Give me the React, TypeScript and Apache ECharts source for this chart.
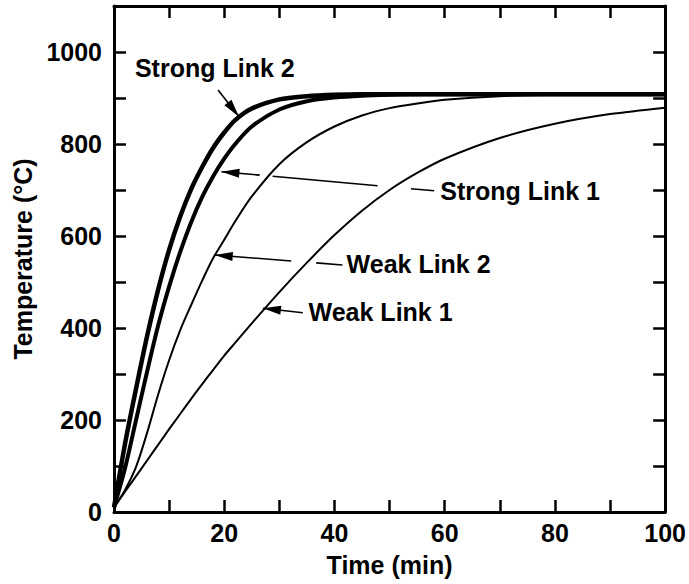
import React, { useEffect, useRef } from "react";
import * as echarts from "echarts";

// Time (min) sample points
const timeMin = [0, 2, 4, 6, 8, 10, 12, 14, 16, 18, 20, 22, 25, 30, 35, 40, 45, 50, 55, 60, 70, 80, 90, 100];
// Temperature (°C) per series
const strongLink2 = [10, 148, 268, 382, 483, 570, 642, 702, 750, 792, 825, 852, 877, 897, 904, 907, 908, 908, 908, 908, 908, 908, 908, 908];
const strongLink1 = [10, 95, 200, 305, 405, 490, 565, 630, 685, 730, 768, 800, 838, 875, 893, 901, 905, 907, 908, 908, 908, 908, 908, 908];
const weakLink2 = [10, 48, 98, 172, 255, 330, 395, 450, 503, 552, 592, 632, 686, 756, 804, 838, 862, 878, 888, 896, 904, 907, 908, 908];
const weakLink1 = [10, 44, 78, 112, 146, 180, 213, 246, 278, 309, 340, 368, 410, 478, 542, 602, 655, 700, 737, 768, 813, 844, 865, 879];

const seriesNames = ["Strong Link 2", "Strong Link 1", "Weak Link 2", "Weak Link 1"];
const seriesWidths = [4.5, 4, 2, 2];

// Annotation labels: [time, temperature] of left edge / vertical middle
const labelText = ["Strong Link 2", "Strong Link 1", "Weak Link 2", "Weak Link 1"];
const labelAnchor = [
  [3.8, 965],
  [59.2, 698],
  [42.2, 539],
  [35.3, 434],
];
// Arrow line pieces (data coords), last point of last piece is the arrow tip
const arrowPieces = [
  [[[18.88, 917.4], [22.68, 859.3]]],
  [
    [[58.1, 698.5], [53.88, 702.8]],
    [[47.84, 709.3], [28.78, 729.8]],
    [[26.43, 732.4], [19.49, 739.8]],
  ],
  [
    [[41.45, 537.0], [36.69, 541.5]],
    [[32.16, 545.7], [18.28, 558.7]],
  ],
  [[[34.26, 433.3], [27.02, 442.8]]],
];

const xTicks = { min: 0, max: 100, interval: 10 };
const yTicks = { min: 0, max: 1100, interval: 100 };

const FONT = "'Liberation Sans', Arial, Helvetica, sans-serif";

export default function App() {
  const ref = useRef<HTMLDivElement>(null);
  useEffect(() => {
    if (!ref.current) return;
    const chart = echarts.init(ref.current, undefined, { renderer: "svg" });
    const allData = [strongLink2, strongLink1, weakLink2, weakLink1];
    const axisLine = { show: true, onZero: false, lineStyle: { color: "#000", width: 3 } };
    const axisTick = { show: true, inside: true, length: 12, lineStyle: { color: "#000", width: 2.5 } };
    const labelStyle = { color: "#000", fontFamily: FONT, fontWeight: "bold" as const, fontSize: 25 };
    chart.setOption({
      animation: false,
      backgroundColor: "#fff",
      grid: { left: 114, right: 22.5, top: 6, bottom: 72, containLabel: false },
      xAxis: [
        {
          type: "value",
          ...xTicks,
          position: "bottom",
          axisLine,
          axisTick,
          splitLine: { show: false },
          axisLabel: {
            ...labelStyle,
            margin: 8,
            formatter: (v: number) => (v % 20 === 0 ? String(v) : ""),
          },
          name: "Time (min)",
          nameLocation: "middle",
          nameGap: 40,
          nameTextStyle: { ...labelStyle },
        },
        {
          type: "value",
          ...xTicks,
          position: "top",
          axisLine,
          axisTick,
          splitLine: { show: false },
          axisLabel: { show: false },
        },
      ],
      yAxis: [
        {
          type: "value",
          ...yTicks,
          position: "left",
          axisLine,
          axisTick,
          splitLine: { show: false },
          axisLabel: {
            ...labelStyle,
            margin: 12,
            formatter: (v: number) => (v % 200 === 0 && v <= 1000 ? String(v) : ""),
          },
          name: "Temperature (°C)",
          nameLocation: "middle",
          nameGap: 78,
          nameTextStyle: { ...labelStyle },
        },
        {
          type: "value",
          ...yTicks,
          position: "right",
          axisLine,
          axisTick,
          splitLine: { show: false },
          axisLabel: { show: false },
        },
      ],
      series: allData.map((vals, i) => ({
        name: seriesNames[i],
        type: "line",
        xAxisIndex: 0,
        yAxisIndex: 0,
        showSymbol: false,
        symbol: "none",
        smooth: 0.3,
        lineStyle: { color: "#000", width: seriesWidths[i] },
        data: timeMin.map((t, k) => [t, vals[k]]),
        z: 3,
      })),
    });

    const px = (p: number[]) => chart.convertToPixel({ gridIndex: 0 }, p) as number[];
    const graphics: any[] = [];
    labelText.forEach((txt, i) => {
      const p = px(labelAnchor[i]);
      graphics.push({
        type: "text",
        x: p[0],
        y: p[1],
        z: 10,
        style: {
          text: txt,
          fill: "#000",
          font: `bold 25px ${FONT}`,
          align: "left",
          verticalAlign: "middle",
          textAlign: "left",
          textVerticalAlign: "middle",
        },
      });
    });
    arrowPieces.forEach((pieces) => {
      pieces.forEach((seg) => {
        const a = px(seg[0]);
        const b = px(seg[1]);
        graphics.push({
          type: "line",
          z: 10,
          shape: { x1: a[0], y1: a[1], x2: b[0], y2: b[1] },
          style: { stroke: "#000", lineWidth: 1.6 },
        });
      });
      const last = pieces[pieces.length - 1];
      const a = px(last[0]);
      const tip = px(last[1]);
      const dx = tip[0] - a[0];
      const dy = tip[1] - a[1];
      const len = Math.hypot(dx, dy) || 1;
      const ux = dx / len;
      const uy = dy / len;
      const L = 18;
      const W = 4.5;
      const bx = tip[0] - ux * L;
      const by = tip[1] - uy * L;
      graphics.push({
        type: "polygon",
        z: 10,
        shape: {
          points: [
            [tip[0], tip[1]],
            [bx - uy * W, by + ux * W],
            [bx + uy * W, by - ux * W],
          ],
        },
        style: { fill: "#000" },
      });
    });
    chart.setOption({ graphic: graphics });

    return () => chart.dispose();
  }, []);
  return (
    <div
      ref={ref}
      style={{ position: "fixed", left: 0, top: 0, width: 689, height: 584, background: "#fff" }}
    />
  );
}
